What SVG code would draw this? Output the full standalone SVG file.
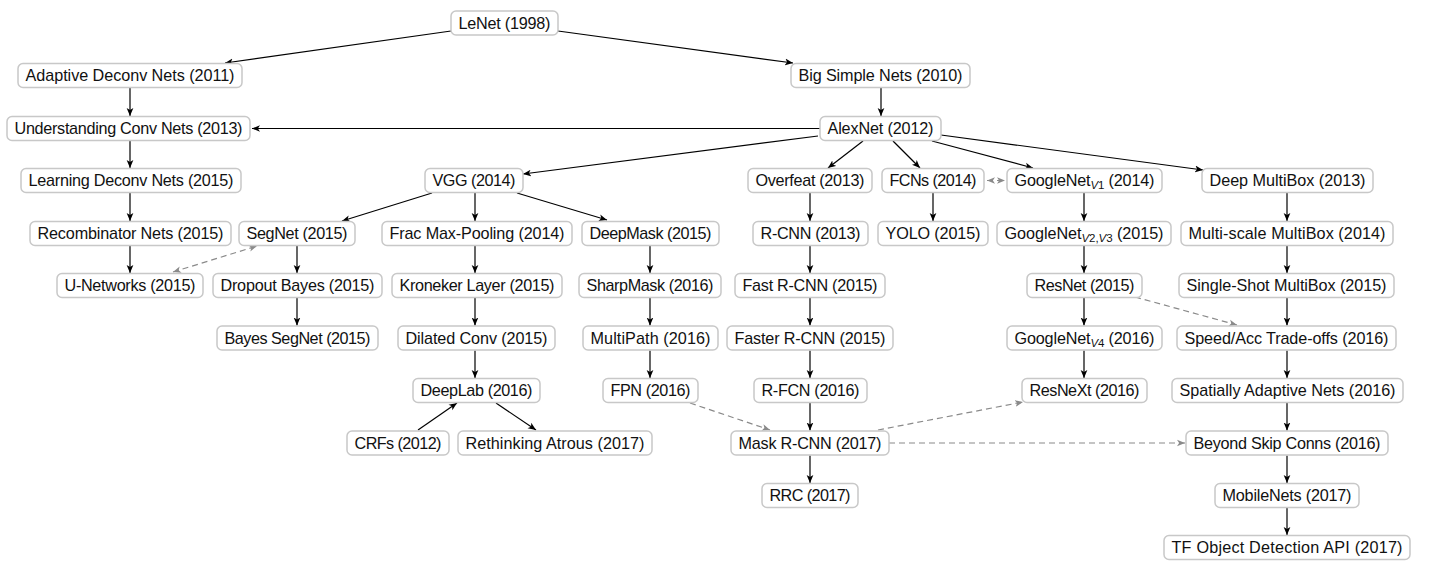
<svg xmlns="http://www.w3.org/2000/svg" width="1430" height="578" viewBox="0 0 1430 578">
<defs>
<marker id="ah" viewBox="0 0 10 10" refX="10" refY="5" markerWidth="8" markerHeight="8" markerUnits="userSpaceOnUse" orient="auto-start-reverse">
<path d="M0,0.8 L10,5 L0,9.2 L2.6,5 z" fill="#000"/>
</marker>
<marker id="ahg" viewBox="0 0 10 10" refX="10" refY="5" markerWidth="8" markerHeight="8" markerUnits="userSpaceOnUse" orient="auto-start-reverse">
<path d="M0,0.8 L10,5 L0,9.2 L2.6,5 z" fill="#8a8a8a"/>
</marker>
</defs>
<style>
.b{fill:#fff;stroke:#c8c8c8;stroke-width:1.5}
.t{font-family:"Liberation Sans","DejaVu Sans",sans-serif;font-size:16.2px;fill:#111;text-anchor:middle}
.s{font-size:11.5px}
.i{font-style:italic}
.e{fill:none;stroke:#000;stroke-width:1.2;marker-end:url(#ah)}
.d{fill:none;stroke:#8a8a8a;stroke-width:1.2;stroke-dasharray:6 4;marker-end:url(#ahg)}
.dd{marker-start:url(#ahg)}
</style>
<g id="connectors">
<line class="e" x1="451" y1="31" x2="225" y2="63"/>
<line class="e" x1="558" y1="31" x2="793" y2="63"/>
<line class="e" x1="130" y1="88" x2="130" y2="116"/>
<line class="e" x1="881" y1="88" x2="881" y2="116"/>
<line class="e" x1="820" y1="128.5" x2="252" y2="128.5"/>
<line class="e" x1="130" y1="141" x2="130" y2="168"/>
<line class="e" x1="818" y1="136" x2="523" y2="174"/>
<line class="e" x1="863" y1="141" x2="828" y2="168"/>
<line class="e" x1="893" y1="141" x2="920" y2="168"/>
<line class="e" x1="932" y1="141" x2="1033" y2="168"/>
<line class="e" x1="941" y1="135" x2="1203" y2="170"/>
<line class="d dd" x1="987" y1="180.5" x2="1005" y2="180.5"/>
<line class="e" x1="130" y1="193" x2="130" y2="221"/>
<line class="e" x1="432" y1="193" x2="342" y2="221"/>
<line class="e" x1="475" y1="193" x2="475" y2="221"/>
<line class="e" x1="517" y1="193" x2="607" y2="220"/>
<line class="e" x1="810" y1="193" x2="810" y2="221"/>
<line class="e" x1="933" y1="193" x2="933" y2="221"/>
<line class="e" x1="1084" y1="193" x2="1084" y2="221"/>
<line class="e" x1="1287" y1="193" x2="1287" y2="221"/>
<line class="e" x1="130" y1="245.5" x2="130" y2="273"/>
<line class="d dd" x1="173" y1="272" x2="257" y2="246"/>
<line class="e" x1="297" y1="245.5" x2="297" y2="273"/>
<line class="e" x1="475" y1="245.5" x2="475" y2="273"/>
<line class="e" x1="650" y1="245.5" x2="650" y2="273"/>
<line class="e" x1="810" y1="245.5" x2="810" y2="273"/>
<line class="e" x1="1084" y1="245.5" x2="1084" y2="273"/>
<line class="e" x1="1287" y1="245.5" x2="1287" y2="273"/>
<line class="e" x1="297" y1="298" x2="297" y2="325.5"/>
<line class="e" x1="475" y1="298" x2="475" y2="325.5"/>
<line class="e" x1="650" y1="298" x2="650" y2="325.5"/>
<line class="e" x1="810" y1="298" x2="810" y2="325.5"/>
<line class="e" x1="1084" y1="298" x2="1084" y2="325.5"/>
<line class="d" x1="1135" y1="297" x2="1237" y2="325"/>
<line class="e" x1="1287" y1="298" x2="1287" y2="325.5"/>
<line class="e" x1="475" y1="350.5" x2="475" y2="378"/>
<line class="e" x1="650" y1="350.5" x2="650" y2="378"/>
<line class="e" x1="810" y1="350.5" x2="810" y2="378"/>
<line class="e" x1="1084" y1="350.5" x2="1084" y2="378"/>
<line class="e" x1="1287" y1="350.5" x2="1287" y2="378"/>
<line class="e" x1="418" y1="430" x2="457" y2="403"/>
<line class="e" x1="496" y1="403" x2="536" y2="430"/>
<line class="d" x1="690" y1="403" x2="770" y2="430"/>
<line class="e" x1="810" y1="403" x2="810" y2="430.5"/>
<line class="d" x1="878" y1="430" x2="1023" y2="402"/>
<line class="d" x1="889" y1="443" x2="1185" y2="443"/>
<line class="e" x1="1287" y1="403" x2="1287" y2="430.5"/>
<line class="e" x1="810" y1="455.5" x2="810" y2="483"/>
<line class="e" x1="1287" y1="455.5" x2="1287" y2="483"/>
<line class="e" x1="1287" y1="508" x2="1287" y2="535"/>
</g>
<g id="n-lenet"><rect class="b" x="451" y="11" width="107" height="24" rx="5"/><text class="t" x="504.5" y="28.8" textLength="92">LeNet (1998)</text></g>
<g id="n-adaptive"><rect class="b" x="18" y="63.5" width="224" height="24" rx="5"/><text class="t" x="130" y="81.3" textLength="209">Adaptive Deconv Nets (2011)</text></g>
<g id="n-bigsimple"><rect class="b" x="791" y="63.5" width="179" height="24" rx="5"/><text class="t" x="880.5" y="81.3" textLength="164">Big Simple Nets (2010)</text></g>
<g id="n-understanding"><rect class="b" x="7" y="116.5" width="243" height="24" rx="5"/><text class="t" x="128.5" y="134.3" textLength="228">Understanding Conv Nets (2013)</text></g>
<g id="n-alexnet"><rect class="b" x="820" y="116.5" width="121" height="24" rx="5"/><text class="t" x="880.5" y="134.3" textLength="106">AlexNet (2012)</text></g>
<g id="n-learning"><rect class="b" x="21" y="168.5" width="220" height="24" rx="5"/><text class="t" x="131" y="186.3" textLength="205">Learning Deconv Nets (2015)</text></g>
<g id="n-vgg"><rect class="b" x="425" y="168.5" width="98" height="24" rx="5"/><text class="t" x="474" y="186.3" textLength="83">VGG (2014)</text></g>
<g id="n-overfeat"><rect class="b" x="748" y="168.5" width="124" height="24" rx="5"/><text class="t" x="810" y="186.3" textLength="109">Overfeat (2013)</text></g>
<g id="n-fcns"><rect class="b" x="882" y="168.5" width="102" height="24" rx="5"/><text class="t" x="933" y="186.3" textLength="87">FCNs (2014)</text></g>
<g id="n-googlenetv1"><rect class="b" x="1007" y="168.5" width="155" height="24" rx="5"/><text class="t" x="1084.5" y="186.3" textLength="140">GoogleNet<tspan class="s i" dy="3">V</tspan><tspan class="s">1</tspan><tspan dy="-3"> (2014)</tspan></text></g>
<g id="n-deepmultibox"><rect class="b" x="1202" y="168.5" width="171" height="24" rx="5"/><text class="t" x="1287.5" y="186.3" textLength="156">Deep MultiBox (2013)</text></g>
<g id="n-recombinator"><rect class="b" x="30" y="221.5" width="201" height="24" rx="5"/><text class="t" x="130.5" y="239.3" textLength="186">Recombinator Nets (2015)</text></g>
<g id="n-segnet"><rect class="b" x="239" y="221.5" width="116" height="24" rx="5"/><text class="t" x="297" y="239.3" textLength="101">SegNet (2015)</text></g>
<g id="n-fracmax"><rect class="b" x="382" y="221.5" width="190" height="24" rx="5"/><text class="t" x="477" y="239.3" textLength="175">Frac Max-Pooling (2014)</text></g>
<g id="n-deepmask"><rect class="b" x="582" y="221.5" width="137" height="24" rx="5"/><text class="t" x="650.5" y="239.3" textLength="122">DeepMask (2015)</text></g>
<g id="n-rcnn"><rect class="b" x="753" y="221.5" width="115" height="24" rx="5"/><text class="t" x="810.5" y="239.3" textLength="100">R-CNN (2013)</text></g>
<g id="n-yolo"><rect class="b" x="878" y="221.5" width="110" height="24" rx="5"/><text class="t" x="933" y="239.3" textLength="95">YOLO (2015)</text></g>
<g id="n-googlenetv23"><rect class="b" x="997" y="221.5" width="174" height="24" rx="5"/><text class="t" x="1084" y="239.3" textLength="159">GoogleNet<tspan class="s i" dy="3">V</tspan><tspan class="s">2,</tspan><tspan class="s i">V</tspan><tspan class="s">3</tspan><tspan dy="-3"> (2015)</tspan></text></g>
<g id="n-multiscale"><rect class="b" x="1181" y="221.5" width="212" height="24" rx="5"/><text class="t" x="1287" y="239.3" textLength="197">Multi-scale MultiBox (2014)</text></g>
<g id="n-unet"><rect class="b" x="57" y="273.5" width="146" height="24" rx="5"/><text class="t" x="130" y="291.3" textLength="131">U-Networks (2015)</text></g>
<g id="n-dropout"><rect class="b" x="213" y="273.5" width="169" height="24" rx="5"/><text class="t" x="297.5" y="291.3" textLength="154">Dropout Bayes (2015)</text></g>
<g id="n-kroneker"><rect class="b" x="392" y="273.5" width="170" height="24" rx="5"/><text class="t" x="477" y="291.3" textLength="155">Kroneker Layer (2015)</text></g>
<g id="n-sharpmask"><rect class="b" x="579" y="273.5" width="142" height="24" rx="5"/><text class="t" x="650" y="291.3" textLength="127">SharpMask (2016)</text></g>
<g id="n-fastrcnn"><rect class="b" x="735" y="273.5" width="150" height="24" rx="5"/><text class="t" x="810" y="291.3" textLength="135">Fast R-CNN (2015)</text></g>
<g id="n-resnet"><rect class="b" x="1027" y="273.5" width="115" height="24" rx="5"/><text class="t" x="1084.5" y="291.3" textLength="100">ResNet (2015)</text></g>
<g id="n-singleshot"><rect class="b" x="1179" y="273.5" width="215" height="24" rx="5"/><text class="t" x="1286.5" y="291.3" textLength="200">Single-Shot MultiBox (2015)</text></g>
<g id="n-bayessegnet"><rect class="b" x="217" y="326" width="161" height="24" rx="5"/><text class="t" x="297.5" y="343.8" textLength="146">Bayes SegNet (2015)</text></g>
<g id="n-dilated"><rect class="b" x="398" y="326" width="157" height="24" rx="5"/><text class="t" x="476.5" y="343.8" textLength="142">Dilated Conv (2015)</text></g>
<g id="n-multipath"><rect class="b" x="583" y="326" width="135" height="24" rx="5"/><text class="t" x="650.5" y="343.8" textLength="120">MultiPath (2016)</text></g>
<g id="n-fasterrcnn"><rect class="b" x="727" y="326" width="166" height="24" rx="5"/><text class="t" x="810" y="343.8" textLength="151">Faster R-CNN (2015)</text></g>
<g id="n-googlenetv4"><rect class="b" x="1007" y="326" width="155" height="24" rx="5"/><text class="t" x="1084.5" y="343.8" textLength="140">GoogleNet<tspan class="s i" dy="3">V</tspan><tspan class="s">4</tspan><tspan dy="-3"> (2016)</tspan></text></g>
<g id="n-speedacc"><rect class="b" x="1177" y="326" width="219" height="24" rx="5"/><text class="t" x="1286.5" y="343.8" textLength="204">Speed/Acc Trade-offs (2016)</text></g>
<g id="n-deeplab"><rect class="b" x="413" y="378.5" width="127" height="24" rx="5"/><text class="t" x="476.5" y="396.3" textLength="112">DeepLab (2016)</text></g>
<g id="n-fpn"><rect class="b" x="603" y="378.5" width="95" height="24" rx="5"/><text class="t" x="650.5" y="396.3" textLength="80">FPN (2016)</text></g>
<g id="n-rfcn"><rect class="b" x="754" y="378.5" width="113" height="24" rx="5"/><text class="t" x="810.5" y="396.3" textLength="98">R-FCN (2016)</text></g>
<g id="n-resnext"><rect class="b" x="1022" y="378.5" width="125" height="24" rx="5"/><text class="t" x="1084.5" y="396.3" textLength="110">ResNeXt (2016)</text></g>
<g id="n-spatially"><rect class="b" x="1172" y="378.5" width="231" height="24" rx="5"/><text class="t" x="1287.5" y="396.3" textLength="216">Spatially Adaptive Nets (2016)</text></g>
<g id="n-crfs"><rect class="b" x="347" y="431" width="102" height="24" rx="5"/><text class="t" x="398" y="448.8" textLength="87">CRFs (2012)</text></g>
<g id="n-rethinking"><rect class="b" x="458" y="431" width="194" height="24" rx="5"/><text class="t" x="555" y="448.8" textLength="179">Rethinking Atrous (2017)</text></g>
<g id="n-maskrcnn"><rect class="b" x="731" y="431" width="158" height="24" rx="5"/><text class="t" x="810" y="448.8" textLength="143">Mask R-CNN (2017)</text></g>
<g id="n-beyond"><rect class="b" x="1186" y="431" width="202" height="24" rx="5"/><text class="t" x="1287" y="448.8" textLength="187">Beyond Skip Conns (2016)</text></g>
<g id="n-rrc"><rect class="b" x="762" y="483.5" width="96" height="24" rx="5"/><text class="t" x="810" y="501.3" textLength="81">RRC (2017)</text></g>
<g id="n-mobilenets"><rect class="b" x="1215" y="483.5" width="144" height="24" rx="5"/><text class="t" x="1287" y="501.3" textLength="129">MobileNets (2017)</text></g>
<g id="n-tf"><rect class="b" x="1164" y="535.5" width="246" height="24" rx="5"/><text class="t" x="1287" y="553.3" textLength="231">TF Object Detection API (2017)</text></g>
</svg>
